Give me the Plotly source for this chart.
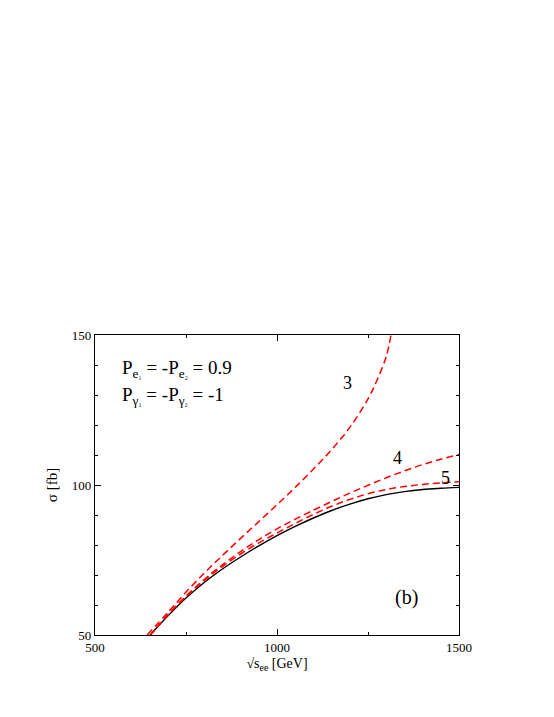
import plotly.graph_objects as go

# sqrt(s_ee) [GeV] grid shared by all curves
energy = [650, 700, 750, 800, 850, 900, 950, 1000, 1050, 1100, 1150,
          1200, 1250, 1300, 1350, 1400, 1450, 1500]

# black solid reference curve
sigma_ref = [49.8, 56.3, 62.3, 67.5, 72.0, 76.0, 79.7, 83.1, 86.2, 89.0,
             91.5, 93.6, 95.4, 96.8, 97.8, 98.5, 98.9, 99.2]

# red dashed curves labelled 3, 4, 5
energy_3 = [643, 700, 750, 800, 850, 900, 950, 1000, 1050, 1100, 1150,
            1200, 1250, 1275, 1300, 1313]
sigma_3 = [50.0, 57.5, 64.3, 70.6, 76.5, 82.2, 87.8, 93.4, 99.2, 105.3,
           111.8, 119.2, 128.7, 135.0, 142.8, 150.0]
sigma_4 = [49.6, 56.8, 63.0, 68.5, 73.4, 77.8, 81.8, 85.4, 88.6, 91.6,
           94.5, 97.3, 99.9, 102.4, 104.7, 106.8, 108.6, 110.2]
sigma_5 = [49.7, 56.6, 62.8, 68.1, 72.8, 77.0, 80.7, 84.0, 87.2, 90.2,
           92.9, 95.2, 97.1, 98.5, 99.5, 100.2, 100.7, 101.1]

curve_labels = ["3", "4", "5"]
label_x = [1193, 1331, 1463]
label_y = [134, 109, 102.5]

FONT = "Liberation Serif"
RED = "#ff0000"
DASH = "7px,4px"

fig = go.Figure()
fig.add_trace(go.Scatter(x=energy, y=sigma_ref, mode="lines",
                         line=dict(color="black", width=1.4, shape="spline")))
fig.add_trace(go.Scatter(x=energy_3, y=sigma_3, mode="lines",
                         line=dict(color=RED, width=1.5, dash=DASH, shape="spline")))
fig.add_trace(go.Scatter(x=energy, y=sigma_4, mode="lines",
                         line=dict(color=RED, width=1.5, dash=DASH, shape="spline")))
fig.add_trace(go.Scatter(x=energy, y=sigma_5, mode="lines",
                         line=dict(color=RED, width=1.5, dash=DASH, shape="spline")))

for txt, lx, ly in zip(curve_labels, label_x, label_y):
    fig.add_annotation(x=lx, y=ly, text=txt, showarrow=False,
                       font=dict(family=FONT, size=18, color="black"))

fig.add_annotation(x=1356, y=62.5, text="(b)", showarrow=False,
                   font=dict(family=FONT, size=20, color="black"))

small = "<span style='font-size:9px'>{}</span>"
fig.add_annotation(x=0.07, y=0.933, xref="paper", yref="paper", xanchor="left",
                   text="P<sub>e" + small.format("₁") + "</sub> = -P<sub>e"
                        + small.format("₂") + "</sub> = 0.9",
                   showarrow=False, font=dict(family=FONT, size=19, color="black"))
fig.add_annotation(x=0.07, y=0.842, xref="paper", yref="paper", xanchor="left",
                   text="P<sub>γ" + small.format("₁") + "</sub> = -P<sub>γ"
                        + small.format("₂") + "</sub> = -1",
                   showarrow=False, font=dict(family=FONT, size=19, color="black"))

axis_common = dict(showline=True, linecolor="black", linewidth=1.2, mirror="ticks",
                   ticks="inside", tickcolor="black", ticklen=6, tickwidth=1,
                   showgrid=False, zeroline=False,
                   tickfont=dict(family=FONT, size=13, color="black"))

fig.update_xaxes(range=[500, 1500], dtick=500, tick0=500,
                 minor=dict(dtick=250, ticks="inside", ticklen=3, tickcolor="black"),
                 title=dict(text="√s<sub>ee</sub> [GeV]", standoff=4,
                            font=dict(family=FONT, size=14, color="black")),
                 **axis_common)
fig.update_yaxes(range=[50, 150], dtick=50, tick0=50,
                 minor=dict(dtick=10, ticks="inside", ticklen=3, tickcolor="black"),
                 title=dict(text="σ [fb]", standoff=10,
                            font=dict(family=FONT, size=15, color="black")),
                 **axis_common)

# page body adds an 8px offset, so the figure is sized to fit after it
fig.update_layout(width=546, height=709, showlegend=False,
                  margin=dict(l=87, r=95, t=327, b=82),
                  font=dict(family=FONT),
                  plot_bgcolor="white", paper_bgcolor="white")

fig.write_html("out.html")
